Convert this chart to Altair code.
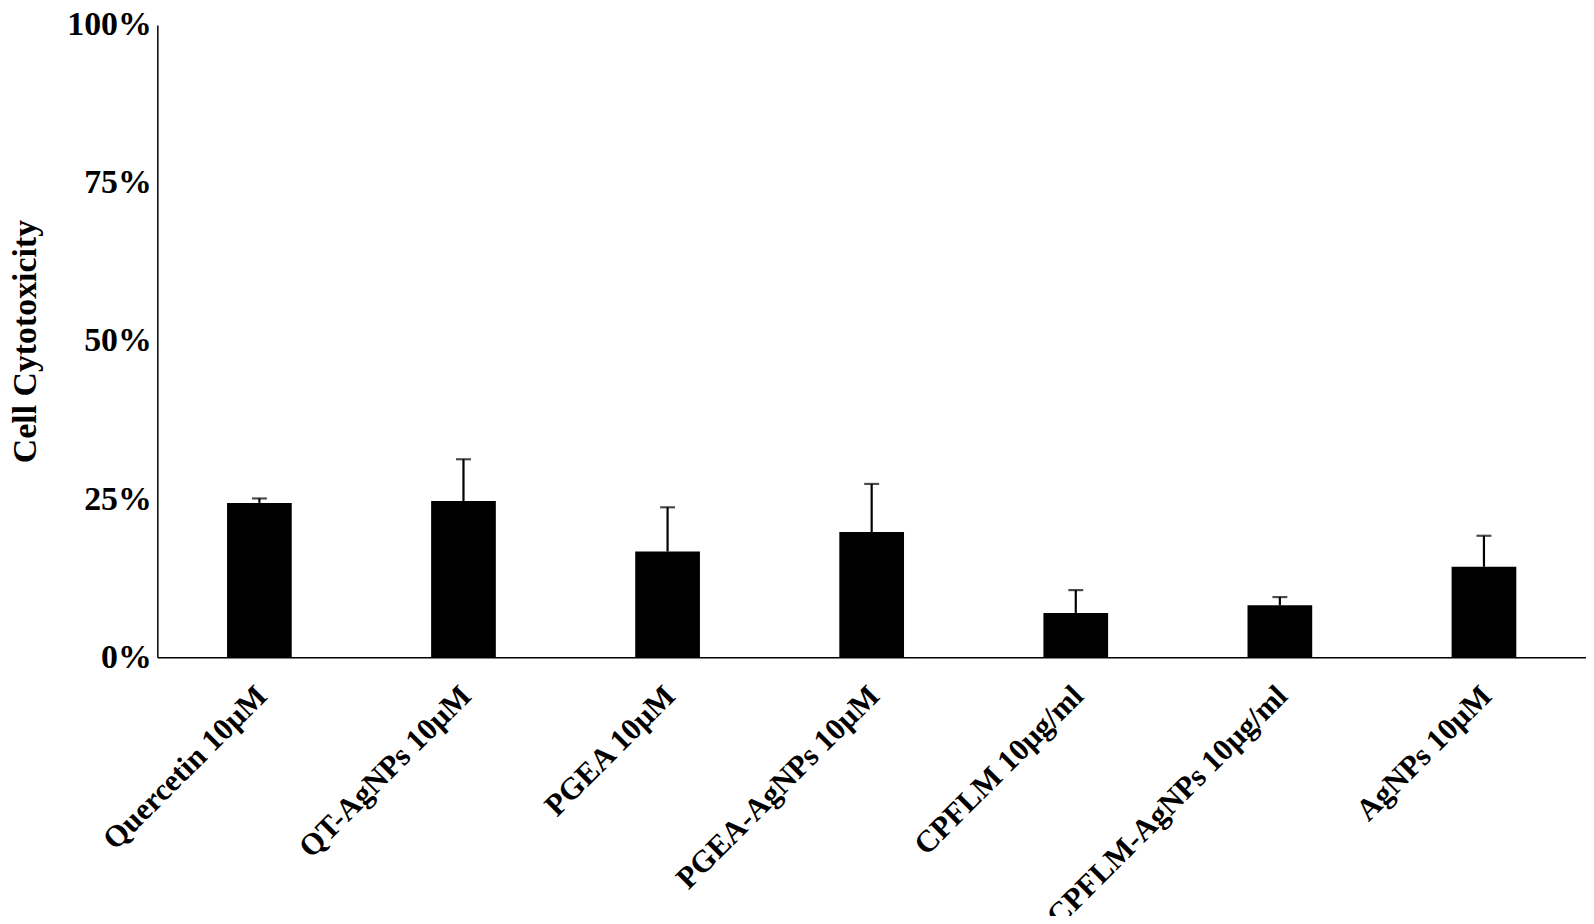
import altair as alt
import pandas as pd

categories = ["Quercetin 10µM", "QT-AgNPs 10µM", "PGEA 10µM", "PGEA-AgNPs 10µM",
              "CPFLM 10µg/ml", "CPFLM-AgNPs 10µg/ml", "AgNPs 10µM"]
cytotoxicity = [24.4, 24.7, 16.7, 19.8, 7.0, 8.2, 14.3]
error_sd = [0.7, 6.6, 7.0, 7.6, 3.6, 1.3, 4.9]
y_ticks = [0, 25, 50, 75, 100]

df = pd.DataFrame({"cat": categories, "val": cytotoxicity, "sd": error_sd})
df["top"] = df["val"] + df["sd"]

FONT = "Liberation Serif"

x_enc = alt.X("cat:N", sort=None, title=None,
              scale=alt.Scale(paddingInner=0.683, paddingOuter=0.3415),
              axis=alt.Axis(labelAngle=-45, labelAlign="right", labelBaseline="middle",
                            labelPadding=34, labelOffset=3, ticks=False, labelFont=FONT,
                            labelFontWeight="bold", labelFontSize=31, labelColor="black",
                            domainColor="black", domainWidth=1.5, labelLimit=600))
y_scale = alt.Scale(domain=[0, 100], nice=False)
y_axis = alt.Axis(values=y_ticks, labelExpr="datum.value + '%'", grid=False, ticks=False,
                  title="Cell Cytotoxicity", titleFont=FONT, titleFontWeight="bold",
                  titleFontSize=34, titleColor="black", titlePadding=24,
                  labelFont=FONT, labelFontWeight="bold", labelFontSize=34,
                  labelColor="black", labelPadding=6, domainColor="black", domainWidth=1.5)

base = alt.Chart(df)
bars = base.mark_bar(color="black").encode(
    x=x_enc,
    y=alt.Y("val:Q", scale=y_scale, axis=y_axis),
)
err = base.mark_rule(color="black", strokeWidth=2.2).encode(
    x=alt.X("cat:N", sort=None),
    y=alt.Y("val:Q"),
    y2="top:Q",
)
cap = base.mark_tick(color="black", thickness=2.2, size=15, orient="horizontal").encode(
    x=alt.X("cat:N", sort=None),
    y=alt.Y("top:Q"),
)

chart = alt.layer(bars, err, cap).properties(
    width=1435, height=635,
    autosize=alt.AutoSizeParams(type="none"),
    padding={"left": 150, "top": 15, "right": 0, "bottom": 258},
    background="white",
).configure_view(stroke=None)

chart.save("out.html", embed_options={"renderer": "svg", "actions": False})
